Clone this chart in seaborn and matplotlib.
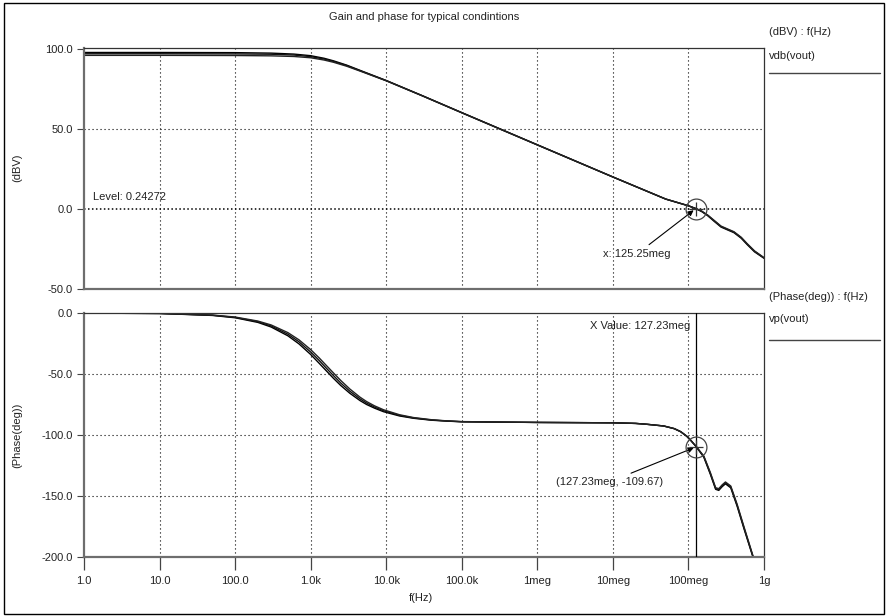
import numpy as np
import pandas as pd
import matplotlib
matplotlib.use("Agg")
import matplotlib.pyplot as plt
from matplotlib.lines import Line2D
from matplotlib.patches import Rectangle
import seaborn as sns

# ---- gain of vdb(vout), three simulation corners (dBV) ----
freq_gain = [1, 10, 100, 300, 600, 1e3, 1.5e3, 2e3, 3e3, 5e3, 1e4, 3e4, 1e5,
             1e6, 1e7, 5e7, 1e8, 1.2525e8, 1.5e8, 1.8e8, 2.2e8, 2.7e8, 3.3e8,
             4e8, 5e8, 6e8, 7.5e8, 1e9]
gain_a = [97.8, 97.8, 97.7, 97.4, 96.8, 95.8, 94.2, 92.6, 89.9, 85.8, 80.3,
          70.8, 60.2, 40.1, 20.0, 6.2, 2.0, 0.24272, -1.5, -4.0, -7.5, -11.0,
          -12.8, -14.5, -18.0, -22.0, -26.5, -30.6]
gain_b = [97.0, 97.0, 96.9, 96.7, 96.2, 95.2, 93.7, 92.2, 89.6, 85.6, 80.2,
          70.8, 60.2, 40.1, 20.0, 6.2, 2.0, 0.24272, -1.6, -4.2, -7.8, -11.3,
          -13.1, -14.8, -18.3, -22.3, -26.8, -30.8]
gain_c = [96.0, 96.0, 95.9, 95.7, 95.3, 94.5, 93.1, 91.7, 89.2, 85.4, 80.1,
          70.7, 60.1, 40.0, 20.0, 6.2, 2.0, 0.24272, -1.4, -3.8, -7.2, -10.7,
          -12.5, -14.2, -17.7, -21.7, -26.2, -30.4]

# ---- phase of vp(vout), same corners (deg) ----
freq_phase = [1, 10, 50, 100, 200, 300, 500, 700, 1e3, 1.3e3, 1.6e3, 2e3,
              2.5e3, 3.3e3, 4.5e3, 5.5e3, 7e3, 9.2e3, 1.5e4, 2.3e4, 4e4, 6.3e4,
              1e5, 1e6, 1e7, 2e7, 2.8e7, 4.7e7, 6.5e7, 7.9e7, 9.5e7, 1.07e8,
              1.2723e8, 1.6e8, 1.95e8, 2.29e8, 2.52e8, 2.8e8, 3.09e8, 3.63e8,
              4.41e8, 5.4e8, 7.18e8, 7.4e8]
phase_a = [-0.1, -0.4, -2.0, -3.9, -7.7, -11.5, -18.7, -25.3, -34.0, -41.3,
           -47.2, -53.5, -59.4, -65.8, -71.8, -75.0, -78.0, -80.9, -84.4,
           -86.3, -87.9, -88.6, -89.2, -89.7, -90.0, -90.5, -91.2, -92.6,
           -94.8, -97.3, -101.0, -104.3, -109.67, -118.3, -132.2, -144.5,
           -145.4, -142.3, -140.0, -143.3, -158.4, -176.3, -200.5, -204.0]
phase_b = [-0.1, -0.4, -1.8, -3.6, -7.1, -10.6, -17.4, -23.6, -32.0, -39.0,
           -45.0, -51.3, -57.4, -64.1, -70.4, -73.8, -77.1, -80.1, -83.9,
           -86.0, -87.7, -88.5, -89.1, -89.7, -90.0, -90.5, -91.2, -92.6,
           -94.8, -97.3, -101.0, -104.3, -109.67, -117.8, -131.5, -143.9,
           -144.7, -141.5, -139.2, -142.5, -157.6, -175.5, -200.0, -204.0]
phase_c = [-0.1, -0.3, -1.7, -3.3, -6.6, -9.8, -16.1, -22.0, -30.0, -36.9,
           -42.8, -49.1, -55.3, -62.3, -69.0, -72.6, -76.1, -79.3, -83.4,
           -85.7, -87.5, -88.4, -89.0, -89.7, -90.0, -90.5, -91.2, -92.6,
           -94.8, -97.3, -101.0, -104.3, -109.67, -117.3, -130.8, -143.2,
           -144.0, -140.8, -138.5, -141.8, -156.8, -174.7, -199.5, -204.0]

corners = ["a", "b", "c"]

# markers
cross_freq = 125.25e6
level_db = 0.24272
xval_freq = 127.23e6
xval_phase = -109.67

xtick_vals = [1, 10, 100, 1e3, 1e4, 1e5, 1e6, 1e7, 1e8, 1e9]
xtick_text = ["1.0", "10.0", "100.0", "1.0k", "10.0k", "100.0k", "1meg",
              "10meg", "100meg", "1g"]
gain_ticks = [100, 50, 0, -50]
phase_ticks = [0, -50, -100, -150, -200]

gain_df = pd.concat([
    pd.DataFrame({"f": freq_gain, "v": g, "corner": c})
    for g, c in zip([gain_a, gain_b, gain_c], corners)])
phase_df = pd.concat([
    pd.DataFrame({"f": freq_phase, "v": p, "corner": c})
    for p, c in zip([phase_a, phase_b, phase_c], corners)])

sns.set_theme(style="white")
plt.rcParams["font.family"] = ["Liberation Sans", "DejaVu Sans"]
plt.rcParams["font.size"] = 8
plt.rcParams["text.color"] = "#222222"

fig = plt.figure(figsize=(8.88, 6.16), dpi=100)
W, H = 888, 616


def fx(px):
    return px / W


def fy(py):
    return 1 - py / H


left, right = 84, 764
ax1 = fig.add_axes([fx(left), fy(289), fx(right - left), (289 - 48) / H])
ax2 = fig.add_axes([fx(left), fy(557), fx(right - left), (557 - 313) / H])

pal = ["black", "#111111", "#222222"]
sns.lineplot(data=gain_df, x="f", y="v", hue="corner", palette=pal,
             estimator=None, sort=False, legend=False, lw=1.0, ax=ax1)
sns.lineplot(data=phase_df, x="f", y="v", hue="corner", palette=pal,
             estimator=None, sort=False, legend=False, lw=1.0, ax=ax2)

dot = (0, (1, 2.6))
for ax in (ax1, ax2):
    ax.set_xscale("log")
    ax.set_xlim(1, 1e9)
    ax.set_xlabel("")
    ax.set_ylabel("")
    ax.minorticks_off()
    for xv in xtick_vals[1:-1]:
        ax.axvline(xv, color="black", lw=0.8, ls=dot, zorder=0)
    for s in ("left", "bottom"):
        ax.spines[s].set_color("#6e6e6e")
        ax.spines[s].set_linewidth(1.6)
    for s in ("top", "right"):
        ax.spines[s].set_color("#333333")
        ax.spines[s].set_linewidth(0.9)
    ax.tick_params(axis="y", which="major", left=True, length=5, width=0.8,
                   color="#444444", pad=3, labelsize=8, labelcolor="#222222")

ax1.set_ylim(-50, 100.6)
ax1.set_yticks(gain_ticks)
ax1.set_yticklabels([f"{v:.1f}" for v in gain_ticks])
ax1.set_xticks(xtick_vals)
ax1.tick_params(axis="x", bottom=False, labelbottom=False)
ax1.axhline(50, color="black", lw=0.8, ls=dot, zorder=0)
ax1.axhline(level_db, color="black", lw=1.1, ls=(0, (1, 1.6)), zorder=1)

ax2.set_ylim(-200, 0)
ax2.set_yticks(phase_ticks)
ax2.set_yticklabels([f"{v:.1f}" for v in phase_ticks])
ax2.set_xticks(xtick_vals)
ax2.set_xticklabels(xtick_text)
ax2.tick_params(axis="x", bottom=True, length=9, width=0.9, color="#444444",
                pad=5, labelsize=8, labelcolor="#222222")
for yv in (-50, -100, -150):
    ax2.axhline(yv, color="black", lw=0.8, ls=dot, zorder=0)
ax2.axvline(xval_freq, color="black", lw=0.9, zorder=3)

# axis titles
fig.text(fx(17), fy(168), "(dBV)", rotation=90, ha="center", va="center",
         fontsize=8)
fig.text(fx(17), fy(435), "(Phase(deg))", rotation=90, ha="center",
         va="center", fontsize=8)
fig.text(fx(421), fy(598), "f(Hz)", ha="center", va="center", fontsize=8)

# crossing markers
for ax, (xm, ym) in ((ax1, (cross_freq, level_db)), (ax2, (xval_freq, xval_phase))):
    ax.plot(xm, ym, marker="o", ms=15, mfc="none", mec="#444444", mew=0.9,
            zorder=5)
    ax.plot(xm, ym, marker="+", ms=10, mec="#333333", mew=0.9, zorder=5)

arrow = dict(arrowstyle="-|>", color="black", lw=0.8, shrinkA=1, shrinkB=2,
             mutation_scale=8)
ax1.annotate("x: 125.25meg", xy=(cross_freq, level_db), xytext=(7.5e6, -28),
             ha="left", va="center", fontsize=8, arrowprops=arrow)
ax1.text(1.3, 7.5, "Level: 0.24272", ha="left", va="center", fontsize=8)

ax2.annotate("(127.23meg, -109.67)", xy=(xval_freq, xval_phase),
             xytext=(1.75e6, -138.5), ha="left", va="center", fontsize=8,
             arrowprops=arrow)
ax2.text(1.06e8, -11, "X Value: 127.23meg", ha="right", va="center",
         fontsize=8)

# title and right-hand trace captions
fig.text(fx(424), fy(17), "Gain and phase for typical condintions",
         ha="center", va="center", fontsize=8)
fig.text(fx(769), fy(32), "(dBV) : f(Hz)", ha="left", va="center", fontsize=8)
fig.text(fx(769), fy(56), "vdb(vout)", ha="left", va="center", fontsize=8)
fig.add_artist(Line2D([fx(769), fx(880)], [fy(73), fy(73)], color="#444444",
                      lw=1.0))
fig.text(fx(769), fy(297), "(Phase(deg)) : f(Hz)", ha="left", va="center",
         fontsize=8)
fig.text(fx(769), fy(319), "vp(vout)", ha="left", va="center", fontsize=8)
fig.add_artist(Line2D([fx(769), fx(880)], [fy(340), fy(340)], color="#444444",
                      lw=1.0))

# outer border
fig.add_artist(Rectangle((fx(4), fy(614)), fx(880), (614 - 3) / H,
                         fill=False, edgecolor="black", lw=1.0,
                         transform=fig.transFigure))

fig.savefig("out.png", dpi=100, facecolor="white")
